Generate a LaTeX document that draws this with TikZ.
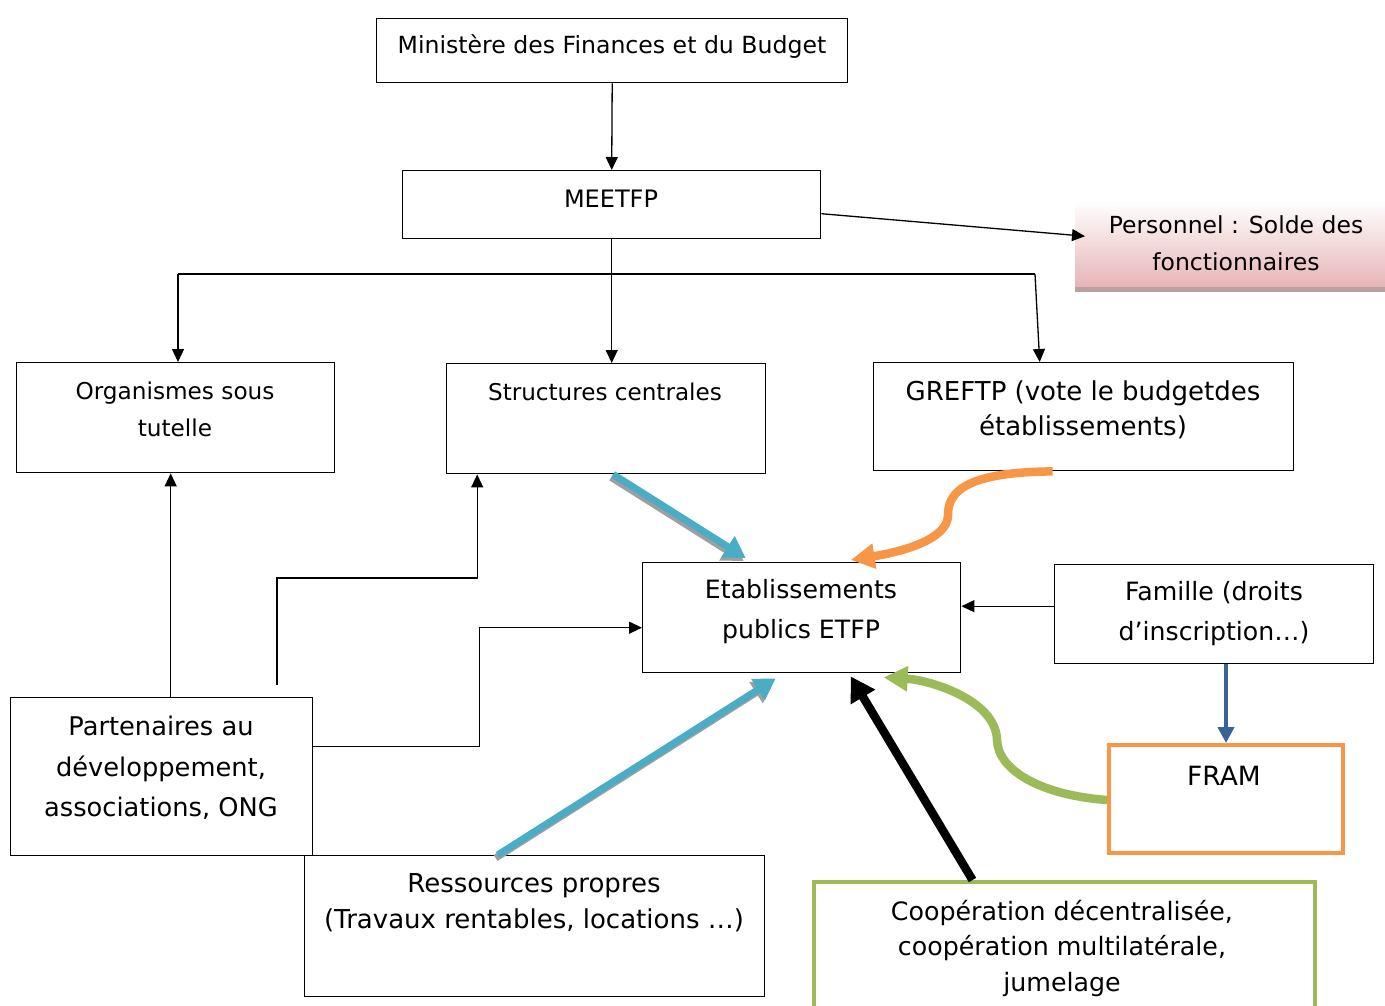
\documentclass[tikz,border=0pt]{standalone}
\usepackage{fontspec}
\setmainfont{DejaVu Sans}
\usetikzlibrary{arrows.meta,positioning,calc}

\definecolor{flowcyan}{HTML}{4BACC6}
\definecolor{floworange}{HTML}{F79646}
\definecolor{flowgreen}{HTML}{9BBB59}
\definecolor{flowblue}{HTML}{3A6296}
\definecolor{soldepink}{HTML}{E6B4B6}

\begin{document}
\begin{tikzpicture}[
        x=1pt, y=-1pt,
        box/.style={draw, line width=1.4pt, inner sep=0pt, anchor=north west},
        txt/.style={font=\fontsize{25}{37}\selectfont, align=center, inner sep=0pt},
        link/.style={-{Triangle[length=13pt,width=12pt]}, line width=1.3pt},
        fat/.style={-{Triangle[length=21pt,width=24pt]}, line width=7pt},
        curvy/.style={-{Triangle[length=24pt,width=24pt]}, line width=8.5pt},
        shade/.style={fat, gray!75, transform canvas={xshift=-2pt, yshift=-3pt}},
    ]
    \useasboundingbox (0,0) rectangle (1385,1005);
    \clip (0,0) rectangle (1385,1005);

    % Boxes
    \node[box, minimum width=471, minimum height=64] (minF) at (376,18) {};
    \node[box, minimum width=418, minimum height=68] (meet) at (402,170) {};
    \node[inner sep=0pt, anchor=north west, minimum width=310, minimum height=88,
          top color=white, bottom color=soldepink] (pers) at (1075,200) {};
    \fill[soldepink!60!gray] (1075,287) rectangle (1385,292);
    \node[box, minimum width=318, minimum height=110] (org) at (16,362) {};
    \node[box, minimum width=319, minimum height=110] (struct) at (446,363) {};
    \node[box, minimum width=420, minimum height=108] (gref) at (873,362) {};
    \node[box, minimum width=318, minimum height=110] (etab) at (642,562) {};
    \node[box, minimum width=319, minimum height=99] (fam) at (1054,564) {};
    \node[box, draw=floworange, line width=4pt, minimum width=234, minimum height=108] (fram) at (1107,743) {};
    \node[box, minimum width=302, minimum height=158] (part) at (10,697) {};
    \node[box, minimum width=460, minimum height=141] (ress) at (304,855) {};
    \node[box, draw=flowgreen, line width=4pt, minimum width=501, minimum height=140] (coop) at (812,880) {};

    % Texts
    \node[txt, font=\fontsize{23.6}{37}\selectfont] (minT) at (612,47) {Ministère des Finances et du Budget};
    \node[txt, font=\fontsize{24}{37}\selectfont] (meetT) at (611,199) {MEETFP};
    \node[txt, font=\fontsize{23.5}{37}\selectfont] (persT) at (1236,243) {Personnel : Solde des\\fonctionnaires};
    \node[txt, font=\fontsize{23.2}{37}\selectfont] (orgT) at (175,409) {Organismes sous\\tutelle};
    \node[txt, font=\fontsize{23.1}{37}\selectfont] (structT) at (605,392) {Structures centrales};
    \node[txt, font=\fontsize{26}{35}\selectfont] (grefT) at (1083,410) {GREFTP (vote le budgetdes\\établissements)};
    \node[txt, font=\fontsize{25.2}{40}\selectfont] (etabT) at (801,612) {Etablissements\\publics ETFP};
    \node[txt, font=\fontsize{25.2}{40}\selectfont] (famT) at (1214,614) {Famille (droits\\d’inscription…)};
    \node[txt, font=\fontsize{26.5}{37}\selectfont] (framT) at (1224,776) {FRAM};
    \node[txt, font=\fontsize{25.7}{40.5}\selectfont] (partT) at (161,768) {Partenaires au\\développement,\\associations, ONG};
    \node[txt, font=\fontsize{26}{36}\selectfont] (ressT) at (534,903) {Ressources propres\\(Travaux rentables, locations …)};
    \node[txt, font=\fontsize{25.3}{35.5}\selectfont] (coopT) at (1062,948) {Coopération décentralisée,\\coopération multilatérale,\\jumelage};

    % Hierarchy
    \coordinate (jl) at (178,274);
    \coordinate (jr) at (1035,274);
    \draw[link] (minF.south) -- (meet.north);
    \draw[link] ([yshift=-9]meet.east) -- ([xshift=10,yshift=8]pers.west);
    \draw[link] (meet.south) -- (meet.south |- struct.north);
    \draw[line width=1.3pt] (jl) -- (jr);
    \draw[link] (jl) -- (jl |- org.north);
    \draw[link] (jr) -- ([xshift=-44]gref.north);

    % Partners
    \coordinate (p2) at (277,685);
    \draw[link] ([xshift=9]part.north) -- ([xshift=9]part.north |- org.south);
    \draw[link] (p2) -- ++(0,-107) -| ([xshift=-129]struct.south);
    \draw[link] ([yshift=30]part.east) -- ++(166,0) |- ([yshift=-10]etab.west);

    % Family and FRAM
    \draw[link] ([yshift=8]fam.west) -- ([yshift=8]fam.west -| etab.east);
    \draw[-{Triangle[length=16pt,width=16pt]}, line width=4pt, flowblue]
        (fram.north |- fam.south) -- (fram.north);

    % Funding flows
    \draw[shade] ([xshift=7]struct.south) -- ([xshift=-56,yshift=4]etab.north);
    \draw[fat, flowcyan] ([xshift=7]struct.south) -- ([xshift=-56,yshift=4]etab.north);
    \draw[shade] ([xshift=-37]ress.north) -- ([xshift=-26,yshift=-5]etab.south);
    \draw[fat, flowcyan] ([xshift=-37]ress.north) -- ([xshift=-26,yshift=-5]etab.south);
    \draw[fat, line width=8.5pt, -{Triangle[length=24pt,width=27pt]}]
        ([xshift=-92]coop.north) -- ([xshift=49,yshift=-3]etab.south);
    \draw[curvy, floworange]
        ([xshift=-31]gref.south) .. controls (960,472) and (948,495) .. (948,515)
        .. controls (948,540) and (900,552) .. ([xshift=49,yshift=2]etab.north);
    \draw[curvy, flowgreen]
        ([yshift=-1]fram.west) .. controls (1040,795) and (998,770) .. (997,740)
        .. controls (996,700) and (930,680) .. ([xshift=82,yshift=-4]etab.south);
\end{tikzpicture}
\end{document}
